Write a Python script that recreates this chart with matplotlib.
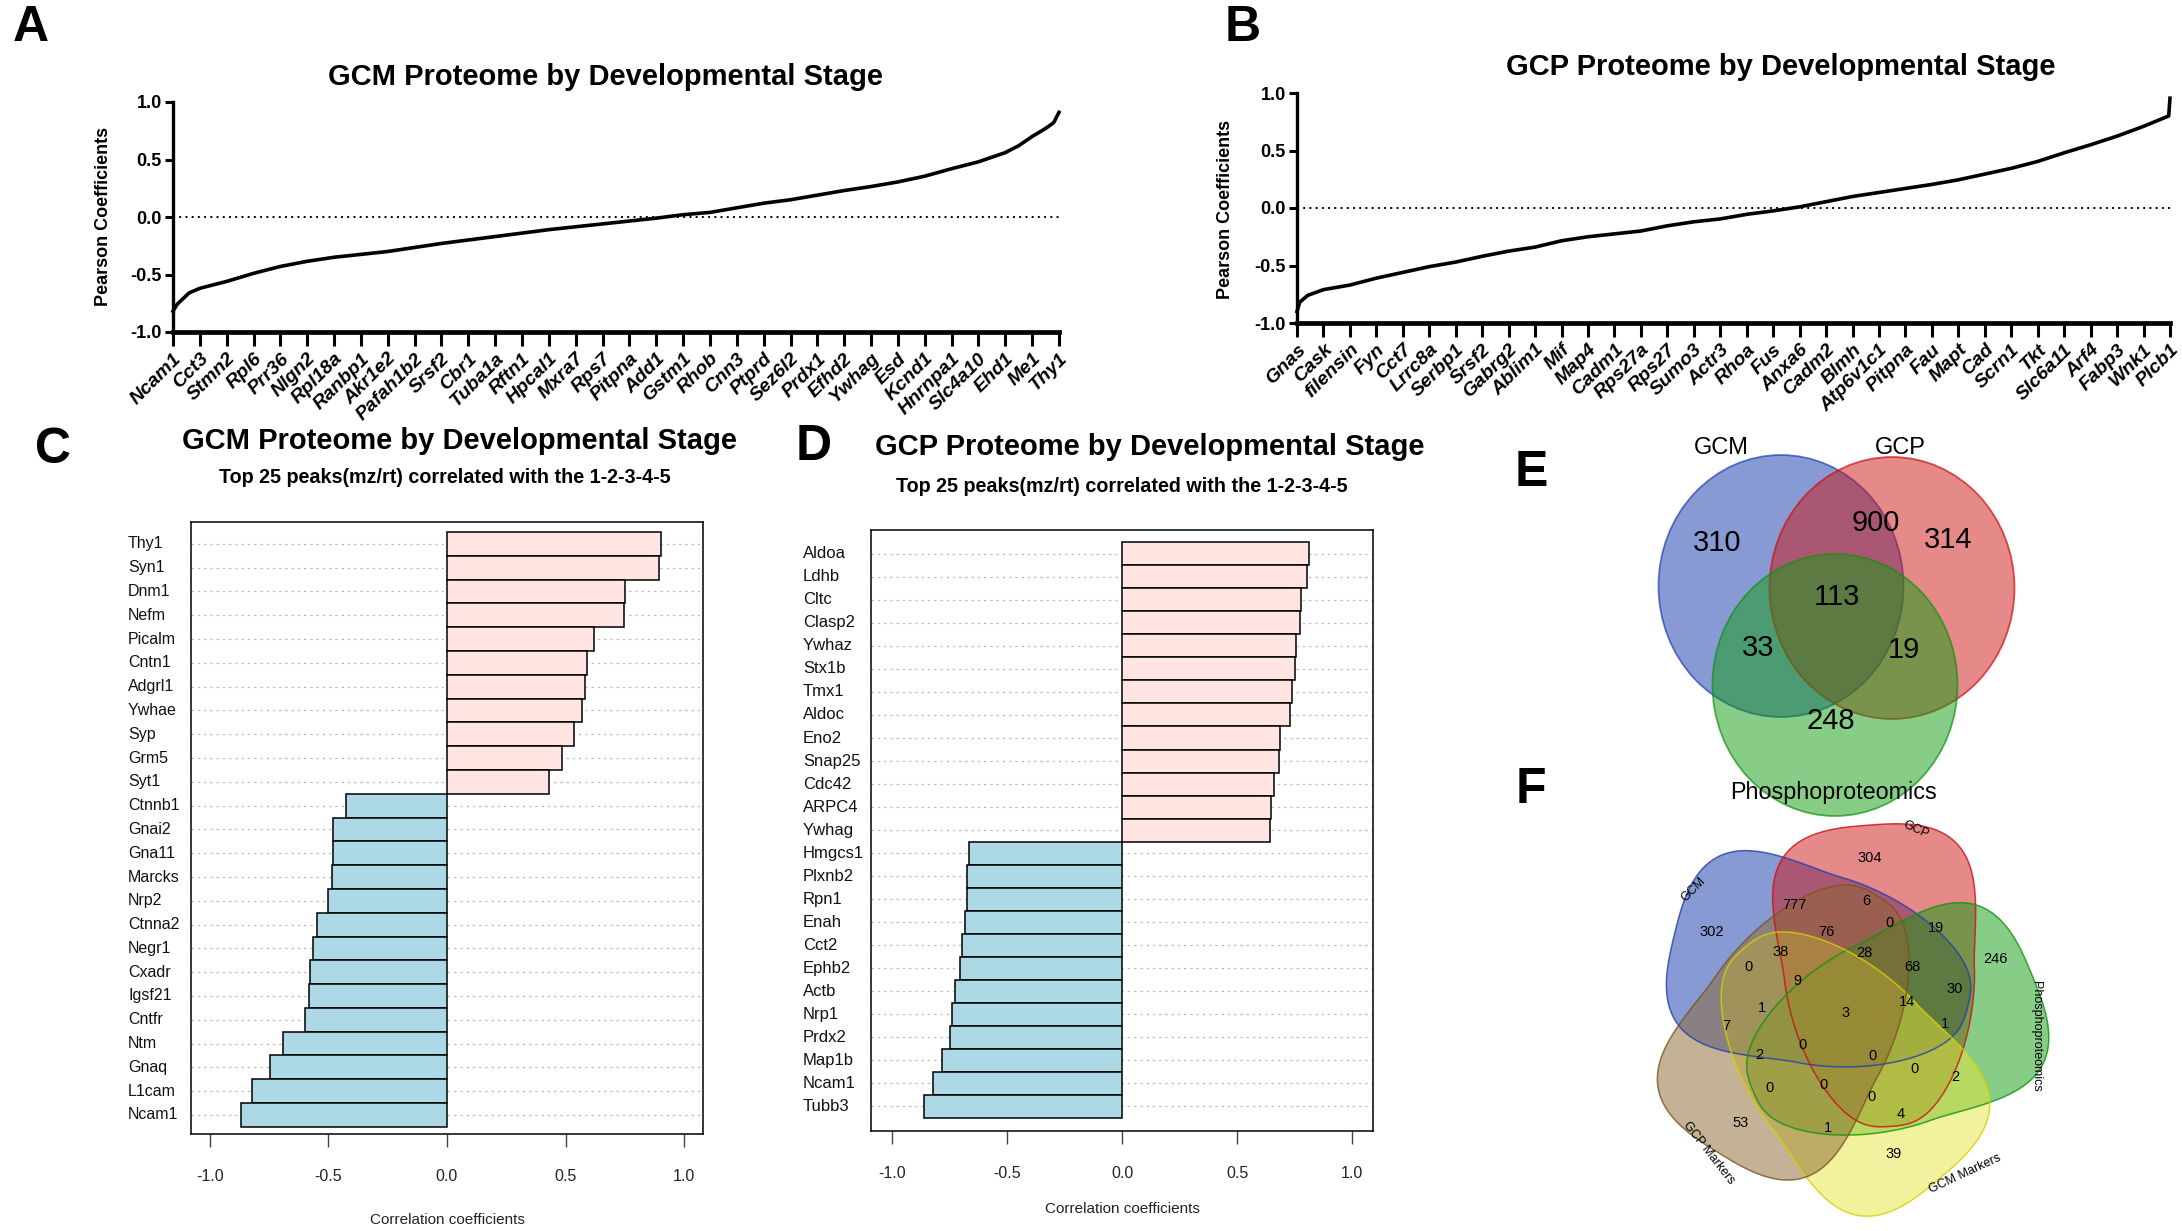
import numpy as np
import matplotlib
matplotlib.use('Agg')
import matplotlib.pyplot as plt
from matplotlib.patches import Ellipse, Polygon

W, H = 2182, 1231
SANS = ['Liberation Sans', 'DejaVu Sans']
NARROW = ['Liberation Sans Narrow', 'Liberation Sans', 'DejaVu Sans']

# ---- panel A : GCM ranked Pearson coefficients (read at tick positions)
gcm_ticks = ['Ncam1', 'Cct3', 'Stmn2', 'Rpl6', 'Prr36', 'Nlgn2', 'Rpl18a', 'Ranbp1', 'Akr1e2',
             'Pafah1b2', 'Srsf2', 'Cbr1', 'Tuba1a', 'Rftn1', 'Hpcal1', 'Mxra7', 'Rps7', 'Pitpna',
             'Add1', 'Gstm1', 'Rhob', 'Cnn3', 'Ptprd', 'Sez6l2', 'Prdx1', 'Efhd2', 'Ywhag', 'Esd',
             'Kcnd1', 'Hnrnpa1', 'Slc4a10', 'Ehd1', 'Me1', 'Thy1']
gcm_rank = [0, 0.15, 0.6, 1, 2, 3, 4, 5, 6, 7, 8, 9, 10, 11, 12, 13, 14, 15, 16, 17, 18, 19, 20,
            21, 22, 23, 24, 25, 26, 27, 28, 29, 30, 31, 31.5, 32, 32.5, 32.8, 33]
gcm_r = [-0.82, -0.76, -0.66, -0.62, -0.56, -0.49, -0.43, -0.385, -0.35, -0.325, -0.30, -0.265,
         -0.23, -0.20, -0.17, -0.14, -0.11, -0.085, -0.06, -0.035, -0.01, 0.02, 0.04, 0.08, 0.12,
         0.15, 0.19, 0.23, 0.265, 0.305, 0.355, 0.42, 0.48, 0.56, 0.62, 0.70, 0.77, 0.82, 0.91]

# ---- panel B : GCP ranked Pearson coefficients
gcp_ticks = ['Gnas', 'Cask', 'filensin', 'Fyn', 'Cct7', 'Lrrc8a', 'Serbp1', 'Srsf2', 'Gabrg2',
             'Ablim1', 'Mif', 'Map4', 'Cadm1', 'Rps27a', 'Rps27', 'Sumo3', 'Actr3', 'Rhoa', 'Fus',
             'Anxa6', 'Cadm2', 'Blmh', 'Atp6v1c1', 'Pitpna', 'Fau', 'Mapt', 'Cad', 'Scrn1', 'Tkt',
             'Slc6a11', 'Arf4', 'Fabp3', 'Wnk1', 'Plcb1']
gcp_rank = [0, 0.1, 0.4, 1, 2, 3, 4, 5, 6, 7, 8, 9, 10, 11, 12, 13, 14, 15, 16, 17, 18, 19, 20,
            21, 22, 23, 24, 25, 26, 27, 28, 29, 30, 31, 32, 32.95, 33]
gcp_r = [-0.90, -0.82, -0.76, -0.71, -0.67, -0.61, -0.56, -0.51, -0.47, -0.42, -0.375, -0.34,
         -0.285, -0.25, -0.225, -0.20, -0.155, -0.12, -0.095, -0.055, -0.025, 0.01, 0.055, 0.10,
         0.135, 0.17, 0.205, 0.245, 0.295, 0.345, 0.405, 0.48, 0.55, 0.625, 0.71, 0.80, 0.955]

# ---- panel C : GCM top 25
c_genes = ['Thy1', 'Syn1', 'Dnm1', 'Nefm', 'Picalm', 'Cntn1', 'Adgrl1', 'Ywhae', 'Syp', 'Grm5',
           'Syt1', 'Ctnnb1', 'Gnai2', 'Gna11', 'Marcks', 'Nrp2', 'Ctnna2', 'Negr1', 'Cxadr',
           'Igsf21', 'Cntfr', 'Ntm', 'Gnaq', 'L1cam', 'Ncam1']
c_corr = [0.903, 0.895, 0.752, 0.748, 0.619, 0.590, 0.584, 0.569, 0.534, 0.486, 0.431, -0.424,
          -0.479, -0.483, -0.486, -0.503, -0.547, -0.564, -0.579, -0.581, -0.600, -0.690, -0.745,
          -0.822, -0.869]

# ---- panel D : GCP top 25
d_genes = ['Aldoa', 'Ldhb', 'Cltc', 'Clasp2', 'Ywhaz', 'Stx1b', 'Tmx1', 'Aldoc', 'Eno2', 'Snap25',
           'Cdc42', 'ARPC4', 'Ywhag', 'Hmgcs1', 'Plxnb2', 'Rpn1', 'Enah', 'Cct2', 'Ephb2', 'Actb',
           'Nrp1', 'Prdx2', 'Map1b', 'Ncam1', 'Tubb3']
d_corr = [0.812, 0.803, 0.777, 0.775, 0.757, 0.752, 0.740, 0.729, 0.688, 0.681, 0.662, 0.648,
          0.643, -0.664, -0.671, -0.674, -0.683, -0.695, -0.703, -0.724, -0.740, -0.747, -0.782,
          -0.821, -0.861]

# ---- panel E : 3-set venn
e_sets = ['GCM', 'GCP', 'Phosphoproteomics']
e_counts = [310, 900, 314, 113, 33, 19, 248]

# ---- panel F : 5-set venn
f_sets = ['GCM', 'GCP', 'Phosphoproteomics', 'GCM Markers', 'GCP Markers']
f_counts = [304, 777, 6, 0, 19, 302, 76, 38, 28, 246, 0, 68, 9, 30, 14, 1, 3, 7, 1, 0, 2, 0, 0,
            2, 0, 0, 0, 4, 53, 1, 39]

venn_fill = ['#1337AB', '#CD1515', '#119D11', '#E7E53D', '#8B672F']
venn_edge = ['#2040B0', '#CC1010', '#10920F', '#D8D000', '#7A5520']

plt.rcParams['font.family'] = SANS
fig = plt.figure(figsize=(W / 100, H / 100), dpi=100)


def px_axes(left, top, right, bottom):
    return fig.add_axes([left / W, 1 - bottom / H, (right - left) / W, (bottom - top) / H])


def ftext(x, y, s, **kw):
    return fig.text(x / W, 1 - y / H, s, **kw)


def curve_panel(box, ticks, rank, r, title, title_xy, ylab_xy):
    ax = px_axes(*box)
    n = len(ticks) - 1
    ax.plot(rank, r, color='black', lw=2.6, solid_joinstyle='round', clip_on=False, zorder=3)
    ax.plot([0, n], [0, 0], color='black', lw=1.4, ls=(0, (1, 2.2)))
    ax.set_xlim(0, n)
    ax.set_ylim(-1, 1)
    ax.set_xticks(range(len(ticks)))
    ax.set_xticklabels(ticks, rotation=45, ha='right', va='top', rotation_mode='anchor',
                       fontsize=14, fontweight='bold', fontstyle='italic', family=NARROW)
    ax.set_yticks([-1, -0.5, 0, 0.5, 1])
    ax.set_yticklabels(['-1.0', '-0.5', '0.0', '0.5', '1.0'], fontsize=13, fontweight='bold',
                       family=NARROW)
    for s in ['top', 'right']:
        ax.spines[s].set_visible(False)
    ax.spines['left'].set_linewidth(2.4)
    ax.spines['bottom'].set_linewidth(3.4)
    ax.tick_params(axis='x', length=10, width=2.2, pad=3)
    ax.tick_params(axis='y', length=6, width=2.2, pad=2)
    ax.set_facecolor('none')
    ftext(*title_xy, title, ha='center', va='center', fontsize=21, fontweight='bold', family=NARROW)
    ftext(*ylab_xy, 'Pearson Coefficients', ha='center', va='center', rotation=90,
          fontsize=13, fontweight='bold')
    return ax


curve_panel((173, 102, 1059, 332), gcm_ticks, gcm_rank, gcm_r,
            'GCM Proteome by Developmental Stage', (606, 77), (103, 216))
curve_panel((1297, 93, 2170, 323), gcp_ticks, gcp_rank, gcp_r,
            'GCP Proteome by Developmental Stage', (1781, 67), (1226, 209))


def bar_panel(box, genes, corr, xlim, ylim, label_x, title, title_xy, sub_xy, xlab_y, lab_fs):
    ax = px_axes(*box)
    pos = np.arange(len(genes))
    colors = ['#FFE4E1' if v > 0 else '#ADD8E6' for v in corr]
    for p in pos:
        ax.axhline(p, color='#BEBEBE', lw=0.9, ls=(0, (2, 3)), zorder=0)
    ax.barh(pos, corr, height=1.0, color=colors, edgecolor='black', linewidth=1.1, zorder=2)
    ax.set_xlim(*xlim)
    ax.set_ylim(*ylim)
    ax.set_yticks([])
    ax.set_xticks([-1, -0.5, 0, 0.5, 1])
    ax.set_xticklabels(['-1.0', '-0.5', '0.0', '0.5', '1.0'], fontsize=11.5, color='#222222')
    ax.tick_params(axis='x', length=9, width=1, pad=16, color='#444444')
    for s in ax.spines.values():
        s.set_linewidth(1.1)
    for g, p in zip(genes, pos):
        ax.text(label_x, p, g, transform=ax.get_yaxis_transform(), ha='left', va='center',
                fontsize=lab_fs, color='#111111')
    ftext(*title_xy, title, ha='center', va='center', fontsize=21, fontweight='bold')
    ftext(*sub_xy, 'Top 25 peaks(mz/rt) correlated with the 1-2-3-4-5', ha='center',
          va='center', fontsize=14.2, fontweight='bold')
    ftext(box[0] + (0 - xlim[0]) / (xlim[1] - xlim[0]) * (box[2] - box[0]), xlab_y,
          'Correlation coefficients', ha='center', va='center', fontsize=11, color='#222222')
    return ax


bar_panel((191, 522, 703, 1134), c_genes, c_corr, (-1.08, 1.08), (24.8, -0.92),
          (128 - 191) / 512, 'GCM Proteome by Developmental Stage', (459, 441), (445, 478),
          1220, 11.5)
bar_panel((871, 530, 1373, 1131), d_genes, d_corr, (-1.09, 1.09), (25.08, -1.04),
          (803 - 871) / 502, 'GCP Proteome by Developmental Stage', (1150, 447), (1122, 487),
          1209, 12)

# panel letters
for letter, x, y in [('A', 31, 28), ('B', 1243, 28), ('C', 53, 450), ('D', 814, 447),
                     ('E', 1531, 473), ('F', 1531, 790)]:
    ftext(x, y, letter, ha='center', va='center', fontsize=36, fontweight='bold')

# overlay axes in pixel coordinates for the venn diagrams
ov = fig.add_axes([0, 0, 1, 1])
ov.set_xlim(0, W)
ov.set_ylim(H, 0)
ov.axis('off')
ov.set_facecolor('none')

# E
e_centers = [(1781, 586), (1892, 588), (1835, 685)]
for (cx, cy), fc, ec in zip(e_centers, venn_fill[:3], venn_edge[:3]):
    ov.add_patch(Ellipse((cx, cy), 245, 262, facecolor=fc, alpha=0.5, edgecolor='none'))
    ov.add_patch(Ellipse((cx, cy), 245, 262, facecolor='none', edgecolor=ec, lw=1.3, alpha=0.7))
e_count_xy = [(1717, 543), (1876, 523), (1948, 540), (1837, 597), (1758, 648), (1904, 650),
              (1831, 721)]
for v, (x, y) in zip(e_counts, e_count_xy):
    ov.text(x, y, str(v), ha='center', va='center', fontsize=21, family=NARROW)
e_label_xy = [(1721, 448), (1900, 448), (1834, 792)]
for s, (x, y) in zip(e_sets, e_label_xy):
    ov.text(x, y, s, ha='center', va='center', fontsize=17 if s != 'Phosphoproteomics' else 16.8,
            family=NARROW if s != 'Phosphoproteomics' else SANS)


# F : five rounded egg-shaped sets, rotated about a common centre
def blob(cx, cy, lobe_deg, a, b, k, p, n=400):
    t = np.linspace(0, 2 * np.pi, n)
    c, s = np.cos(t), np.sin(t)
    u = a * np.sign(c) * np.abs(c) ** p
    v = b * np.sign(s) * np.abs(s) ** p * (1 + k * c)
    th = np.deg2rad(lobe_deg)
    x = cx + u * np.cos(th) - v * np.sin(th)
    y = cy - (u * np.sin(th) + v * np.cos(th))
    return np.column_stack([x, y])


fcx, fcy = 1640 + 620 / 3, 770 + 730 / 3
lobe_angles = [166.3, 94.3, 22.3, 310.3, 238.3]
shapes = []
for ang in lobe_angles:
    off = np.deg2rad(ang - 45.6)
    cx = fcx + 50 * np.cos(off)
    cy = fcy - 50 * np.sin(off)
    shapes.append(blob(cx, cy, ang, 151, 95, 0.33, 0.7))
for pts, fc in zip(shapes, venn_fill):
    ov.add_patch(Polygon(pts, closed=True, facecolor=fc, alpha=0.5, edgecolor='none'))
for pts, ec in zip(shapes, venn_edge):
    ov.add_patch(Polygon(pts, closed=True, facecolor='none', edgecolor=ec, lw=1.1, alpha=0.8))

f_count_zoom = [(688, 265), (462, 405), (680, 392), (748, 458), (888, 474), (215, 485),
                (560, 485), (422, 547), (673, 550), (1065, 568), (326, 592), (818, 592),
                (472, 632), (945, 658), (800, 695), (367, 713), (618, 730), (258, 768),
                (915, 762), (488, 825), (357, 855), (697, 858), (823, 897), (947, 920),
                (387, 955), (549, 945), (693, 980), (783, 1032), (302, 1058), (563, 1073),
                (762, 1152)]
for v, (zx, zy) in zip(f_counts, f_count_zoom):
    ov.text(1640 + zx / 3, 770 + zy / 3, str(v), ha='center', va='center', fontsize=10.5)
f_label_zoom = [(160, 360, 45), (828, 178, -24), (1188, 800, -90), (975, 1210, 25),
                (205, 1150, -52)]
for s, (zx, zy, rot) in zip(f_sets, f_label_zoom):
    ov.text(1640 + zx / 3, 770 + zy / 3, s, ha='center', va='center', fontsize=9,
            rotation=rot, rotation_mode='anchor')

fig.savefig('out.png', dpi=100, facecolor='white')
